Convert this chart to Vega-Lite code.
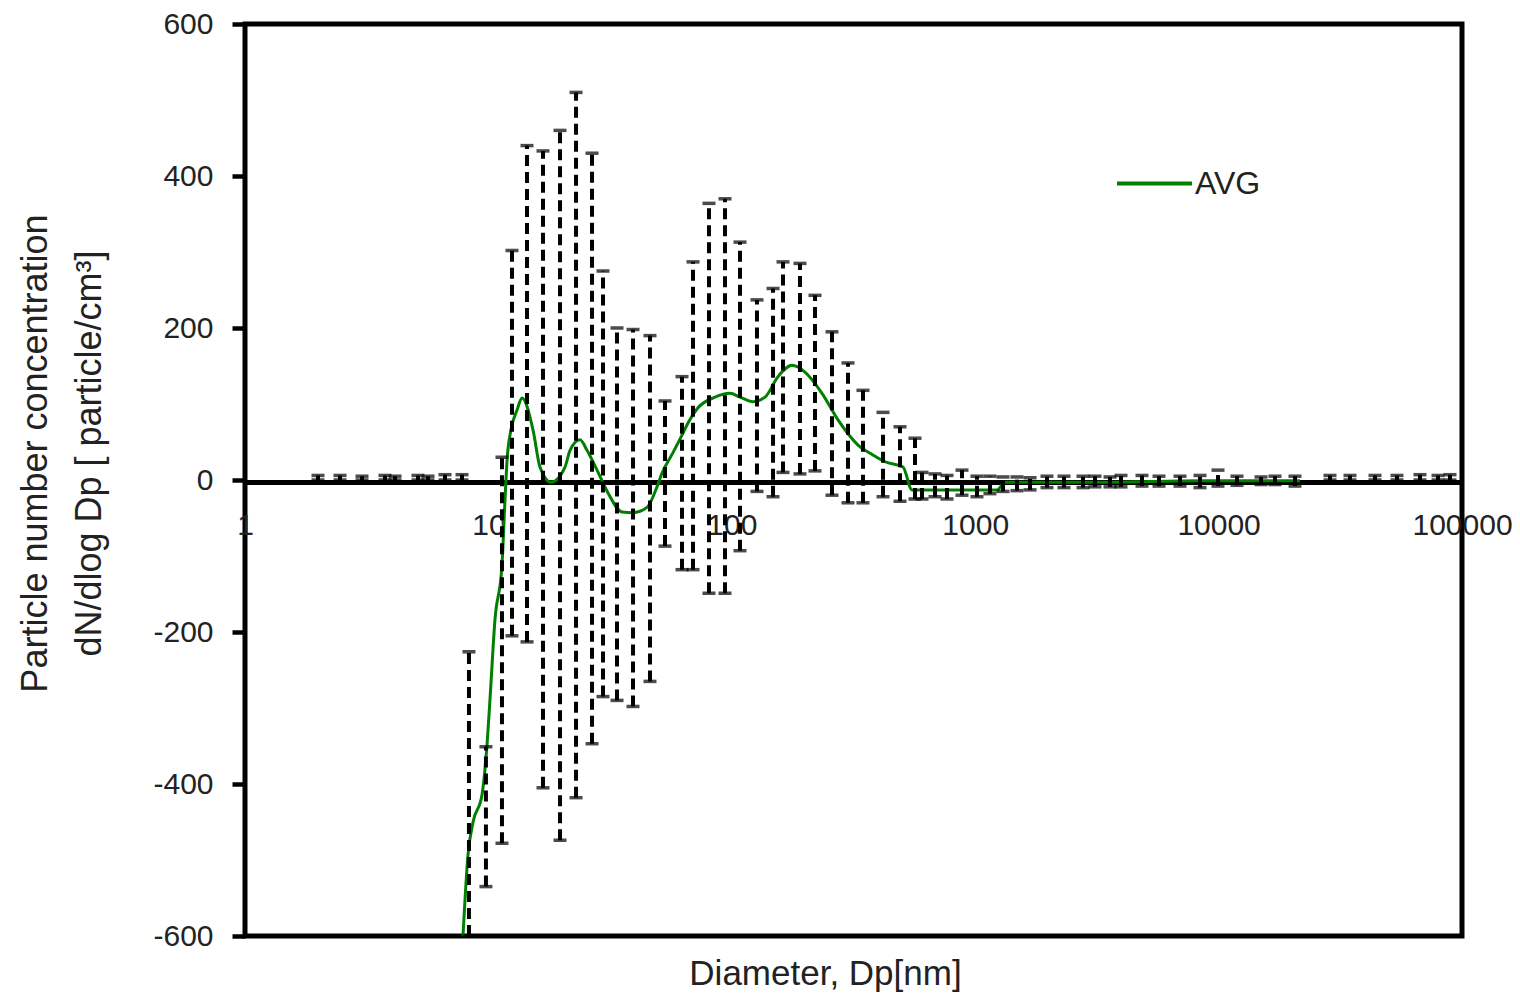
{
  "$schema": "https://vega.github.io/schema/vega-lite/v6.json",
  "width": 1217,
  "height": 912,
  "autosize": {"type": "none"},
  "padding": {"left": 245, "top": 24, "right": 58, "bottom": 60},
  "background": "white",
  "config": {
    "view": {"stroke": "black", "strokeWidth": 5},
    "font": "Liberation Sans"
  },
  "datasets": {
    "bars": [
      {"d": 1.995, "lo": 0, "hi": 6},
      {"d": 2.457, "lo": 0, "hi": 6},
      {"d": 3.025, "lo": 0, "hi": 5},
      {"d": 3.76, "lo": 0, "hi": 6},
      {"d": 4.134, "lo": 0, "hi": 5},
      {"d": 5.137, "lo": 0, "hi": 6},
      {"d": 5.647, "lo": 0, "hi": 5},
      {"d": 6.634, "lo": 0, "hi": 7},
      {"d": 7.79, "lo": 0, "hi": 7},
      {"d": 8.32, "lo": -600, "hi": -226},
      {"d": 9.77, "lo": -535, "hi": -351},
      {"d": 11.37, "lo": -478, "hi": 30},
      {"d": 12.5, "lo": -205, "hi": 302},
      {"d": 14.41, "lo": -213, "hi": 440},
      {"d": 16.76, "lo": -405, "hi": 433},
      {"d": 19.69, "lo": -474, "hi": 460},
      {"d": 22.91, "lo": -418, "hi": 510},
      {"d": 26.65, "lo": -347, "hi": 430},
      {"d": 29.57, "lo": -285, "hi": 275},
      {"d": 33.76, "lo": -290, "hi": 200},
      {"d": 39.28, "lo": -298, "hi": 198},
      {"d": 46.12, "lo": -265, "hi": 190},
      {"d": 53.16, "lo": -87, "hi": 104},
      {"d": 62.43, "lo": -118, "hi": 136},
      {"d": 69.28, "lo": -118, "hi": 287},
      {"d": 80.59, "lo": -149, "hi": 364},
      {"d": 93.77, "lo": -149, "hi": 370},
      {"d": 108.07, "lo": -93, "hi": 313},
      {"d": 126.9, "lo": -15, "hi": 237},
      {"d": 147.7, "lo": -22, "hi": 252},
      {"d": 162.3, "lo": 10, "hi": 287},
      {"d": 190.6, "lo": 8, "hi": 285},
      {"d": 219.7, "lo": 12, "hi": 243},
      {"d": 258.0, "lo": -20, "hi": 195},
      {"d": 300.2, "lo": -30, "hi": 154},
      {"d": 345.9, "lo": -30, "hi": 118},
      {"d": 418.1, "lo": -22, "hi": 89},
      {"d": 491.0, "lo": -28, "hi": 70},
      {"d": 565.8, "lo": -25, "hi": 55},
      {"d": 604.6, "lo": -25, "hi": 10},
      {"d": 683.7, "lo": -22, "hi": 8},
      {"d": 765.9, "lo": -25, "hi": 6},
      {"d": 882.5, "lo": -20, "hi": 13},
      {"d": 1017, "lo": -22, "hi": 5},
      {"d": 1150, "lo": -18, "hi": 5},
      {"d": 1301, "lo": -15, "hi": 4},
      {"d": 1485, "lo": -14, "hi": 4},
      {"d": 1680, "lo": -13, "hi": 3},
      {"d": 1972, "lo": -10, "hi": 5},
      {"d": 2316, "lo": -10, "hi": 5},
      {"d": 2773, "lo": -10, "hi": 5},
      {"d": 3106, "lo": -9, "hi": 5},
      {"d": 3579, "lo": -9, "hi": 4},
      {"d": 3972, "lo": -9, "hi": 6},
      {"d": 4845, "lo": -8, "hi": 6},
      {"d": 5690, "lo": -8, "hi": 5},
      {"d": 6941, "lo": -8, "hi": 5},
      {"d": 8386, "lo": -10, "hi": 6},
      {"d": 9943, "lo": -8, "hi": 13},
      {"d": 11900, "lo": -7, "hi": 5},
      {"d": 14940, "lo": -6, "hi": 4},
      {"d": 17050, "lo": -6, "hi": 5},
      {"d": 20600, "lo": -8, "hi": 5},
      {"d": 28690, "lo": 0, "hi": 6},
      {"d": 34660, "lo": 0, "hi": 6},
      {"d": 43910, "lo": 0, "hi": 6},
      {"d": 54060, "lo": 0, "hi": 6},
      {"d": 67200, "lo": 0, "hi": 7},
      {"d": 79690, "lo": 0, "hi": 6},
      {"d": 89290, "lo": 0, "hi": 7}
    ],
    "avg": [
      {"series": "AVG", "d": 7.864, "avg": -600},
      {"series": "AVG", "d": 8.247, "avg": -493},
      {"series": "AVG", "d": 8.65, "avg": -450},
      {"series": "AVG", "d": 9.413, "avg": -414},
      {"series": "AVG", "d": 9.868, "avg": -349},
      {"series": "AVG", "d": 10.15, "avg": -289},
      {"series": "AVG", "d": 10.64, "avg": -184},
      {"series": "AVG", "d": 11.37, "avg": -112},
      {"series": "AVG", "d": 11.7, "avg": -26},
      {"series": "AVG", "d": 11.93, "avg": 26},
      {"series": "AVG", "d": 12.38, "avg": 66},
      {"series": "AVG", "d": 13.11, "avg": 92},
      {"series": "AVG", "d": 13.75, "avg": 108},
      {"series": "AVG", "d": 15.25, "avg": 66},
      {"series": "AVG", "d": 16.29, "avg": 17},
      {"series": "AVG", "d": 18.08, "avg": -3},
      {"series": "AVG", "d": 20.64, "avg": 17},
      {"series": "AVG", "d": 21.64, "avg": 39},
      {"series": "AVG", "d": 23.79, "avg": 53},
      {"series": "AVG", "d": 25.42, "avg": 39},
      {"series": "AVG", "d": 27.94, "avg": 13},
      {"series": "AVG", "d": 31.0, "avg": -17},
      {"series": "AVG", "d": 35.39, "avg": -42},
      {"series": "AVG", "d": 39.28, "avg": -43},
      {"series": "AVG", "d": 44.83, "avg": -36},
      {"series": "AVG", "d": 49.28, "avg": -9},
      {"series": "AVG", "d": 51.67, "avg": 9},
      {"series": "AVG", "d": 57.33, "avg": 36},
      {"series": "AVG", "d": 62.43, "avg": 59},
      {"series": "AVG", "d": 66.07, "avg": 75},
      {"series": "AVG", "d": 72.62, "avg": 95},
      {"series": "AVG", "d": 85.31, "avg": 109},
      {"series": "AVG", "d": 98.31, "avg": 114},
      {"series": "AVG", "d": 108.1, "avg": 109},
      {"series": "AVG", "d": 122.2, "avg": 103},
      {"series": "AVG", "d": 136.9, "avg": 109},
      {"series": "AVG", "d": 154.8, "avg": 136},
      {"series": "AVG", "d": 176.7, "avg": 151},
      {"series": "AVG", "d": 199.8, "avg": 142},
      {"series": "AVG", "d": 234.8, "avg": 114},
      {"series": "AVG", "d": 273.1, "avg": 79},
      {"series": "AVG", "d": 330.0, "avg": 46},
      {"series": "AVG", "d": 380.3, "avg": 33},
      {"series": "AVG", "d": 426.1, "avg": 24},
      {"series": "AVG", "d": 505.0, "avg": 17},
      {"series": "AVG", "d": 550.0, "avg": -13},
      {"series": "AVG", "d": 788.0, "avg": -13},
      {"series": "AVG", "d": 1229, "avg": -13},
      {"series": "AVG", "d": 1326, "avg": -3},
      {"series": "AVG", "d": 3256, "avg": -3},
      {"series": "AVG", "d": 8385, "avg": -1},
      {"series": "AVG", "d": 21600, "avg": -1}
    ]
  },
  "layer": [
    {
      "data": {"name": "avg"},
      "mark": {"type": "line", "strokeWidth": 3, "interpolate": "monotone", "clip": true},
      "encoding": {
        "x": {
          "field": "d", "type": "quantitative",
          "scale": {"type": "log", "domain": [1, 100000]},
          "axis": {
            "values": [1, 10, 100, 1000, 10000, 100000],
            "labelExpr": "'' + datum.value",
            "offset": -454,
            "domainWidth": 5, "domainColor": "black",
            "ticks": false, "grid": false,
            "labelFontSize": 30, "labelPadding": 28, "labelColor": "#222",
            "labelFlush": false, "labelOverlap": false,
            "title": "Diameter, Dp[nm]",
            "titleFontSize": 35, "titleFontWeight": "normal", "titleColor": "#222",
            "titleX": 580, "titleY": 502, "titleBaseline": "alphabetic", "titleAlign": "center"
          }
        },
        "y": {
          "field": "avg", "type": "quantitative",
          "scale": {"domain": [-600, 600], "nice": false},
          "axis": {
            "values": [-600, -400, -200, 0, 200, 400, 600],
            "labelExpr": "'' + datum.value",
            "tickSize": 13, "tickWidth": 4.5, "tickColor": "black",
            "domain": false, "grid": false,
            "labelFontSize": 30, "labelPadding": 19, "labelColor": "#222",
            "title": ["Particle number concentration", "dN/dlog Dp [ particle/cm³]"],
            "titleFontSize": 36, "titleFontWeight": "normal", "titleColor": "#222",
            "titleLineHeight": 54,
            "titleAngle": -90, "titleAlign": "center", "titleBaseline": "top",
            "titleX": -227, "titleY": 429
          }
        },
        "color": {
          "field": "series", "type": "nominal",
          "scale": {"range": ["#008000"]},
          "legend": {
            "orient": "none", "legendX": 870, "legendY": 120, "title": null,
            "symbolType": "stroke", "symbolSize": 5625, "symbolStrokeWidth": 4,
            "labelFontSize": 32, "labelOffset": 1, "labelColor": "#222", "padding": 0
          }
        }
      }
    },
    {
      "data": {"name": "bars"},
      "mark": {"type": "rule", "strokeDash": [11, 6], "strokeWidth": 4, "color": "black", "clip": true},
      "encoding": {
        "x": {"field": "d", "type": "quantitative"},
        "y": {"field": "lo", "type": "quantitative"},
        "y2": {"field": "hi"}
      }
    },
    {
      "data": {"name": "bars"},
      "mark": {"type": "tick", "orient": "horizontal", "size": 13, "thickness": 3.5, "color": "black", "clip": true},
      "encoding": {
        "x": {"field": "d", "type": "quantitative"},
        "y": {"field": "hi", "type": "quantitative"}
      }
    },
    {
      "data": {"name": "bars"},
      "mark": {"type": "tick", "orient": "horizontal", "size": 13, "thickness": 3.5, "color": "black", "clip": true},
      "encoding": {
        "x": {"field": "d", "type": "quantitative"},
        "y": {"field": "lo", "type": "quantitative"}
      }
    }
  ]
}
